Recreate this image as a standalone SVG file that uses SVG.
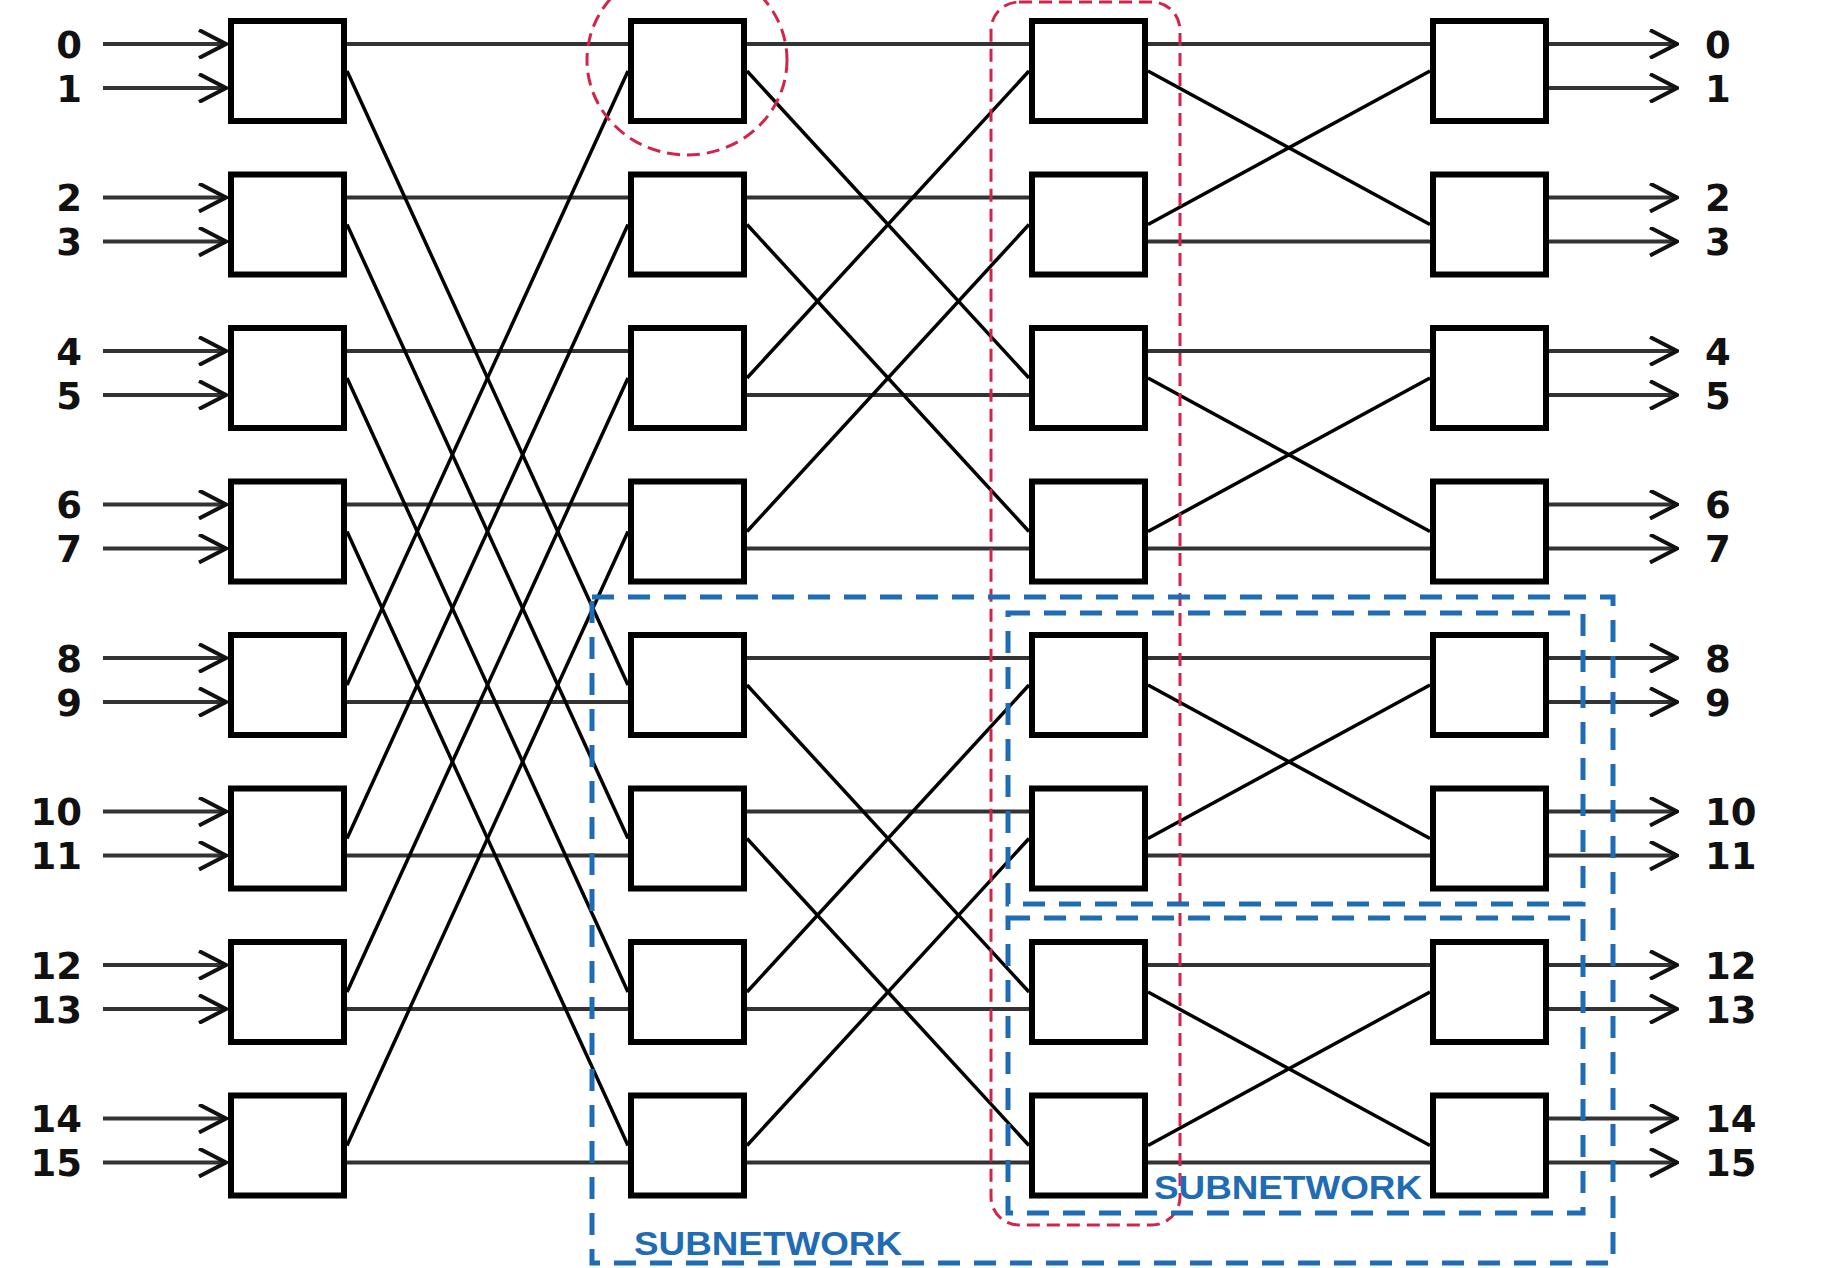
<svg xmlns="http://www.w3.org/2000/svg" width="1845" height="1268" viewBox="0 0 1845 1268">
<style>
.box{fill:#fff;stroke:#000;stroke-width:6}
.h{stroke:#333;stroke-width:4;fill:none}
.d{stroke:#000;stroke-width:3.5;fill:none}
.io{stroke:#333;stroke-width:4;fill:none;marker-end:url(#chev)}
.lbl{font-family:"DejaVu Sans",sans-serif;font-weight:bold;font-size:37px;fill:#111}
.l{text-anchor:end}
.red{fill:none;stroke:#d2234a;stroke-width:3;stroke-dasharray:13 7}
.blue{fill:none;stroke:#1f6cb4;stroke-width:5;stroke-dasharray:22 14}
.sub{font-family:"Liberation Sans",Arial,sans-serif;font-weight:bold;font-size:33px;fill:#1f6cb4}
</style>
<defs>
<marker id="chev" viewBox="0 0 30 30" refX="28" refY="15" markerWidth="30" markerHeight="30" markerUnits="userSpaceOnUse" orient="auto">
<path d="M1,1 L28,15 L1,29" fill="none" stroke="#111" stroke-width="4"/>
</marker>
</defs>
<rect width="1845" height="1268" fill="#fff"/>
<g id="connectors">
<line class="io" x1="103" y1="44" x2="226" y2="44"/>
<line class="io" x1="103" y1="88" x2="226" y2="88"/>
<line class="io" x1="103" y1="197.5" x2="226" y2="197.5"/>
<line class="io" x1="103" y1="241.5" x2="226" y2="241.5"/>
<line class="io" x1="103" y1="351" x2="226" y2="351"/>
<line class="io" x1="103" y1="395" x2="226" y2="395"/>
<line class="io" x1="103" y1="504.5" x2="226" y2="504.5"/>
<line class="io" x1="103" y1="548.5" x2="226" y2="548.5"/>
<line class="io" x1="103" y1="658" x2="226" y2="658"/>
<line class="io" x1="103" y1="702" x2="226" y2="702"/>
<line class="io" x1="103" y1="811.5" x2="226" y2="811.5"/>
<line class="io" x1="103" y1="855.5" x2="226" y2="855.5"/>
<line class="io" x1="103" y1="965" x2="226" y2="965"/>
<line class="io" x1="103" y1="1009" x2="226" y2="1009"/>
<line class="io" x1="103" y1="1118.5" x2="226" y2="1118.5"/>
<line class="io" x1="103" y1="1162.5" x2="226" y2="1162.5"/>
<line class="h" x1="347" y1="44" x2="628" y2="44"/>
<line class="h" x1="347" y1="197.5" x2="628" y2="197.5"/>
<line class="h" x1="347" y1="351" x2="628" y2="351"/>
<line class="h" x1="347" y1="504.5" x2="628" y2="504.5"/>
<line class="h" x1="347" y1="702" x2="628" y2="702"/>
<line class="h" x1="347" y1="855.5" x2="628" y2="855.5"/>
<line class="h" x1="347" y1="1009" x2="628" y2="1009"/>
<line class="h" x1="347" y1="1162.5" x2="628" y2="1162.5"/>
<line class="d" x1="347" y1="71" x2="628" y2="685"/>
<line class="d" x1="347" y1="224.5" x2="628" y2="838.5"/>
<line class="d" x1="347" y1="378" x2="628" y2="992"/>
<line class="d" x1="347" y1="531.5" x2="628" y2="1145.5"/>
<line class="d" x1="347" y1="685" x2="628" y2="71"/>
<line class="d" x1="347" y1="838.5" x2="628" y2="224.5"/>
<line class="d" x1="347" y1="992" x2="628" y2="378"/>
<line class="d" x1="347" y1="1145.5" x2="628" y2="531.5"/>
<line class="h" x1="747" y1="44" x2="1029" y2="44"/>
<line class="h" x1="747" y1="197.5" x2="1029" y2="197.5"/>
<line class="h" x1="747" y1="395" x2="1029" y2="395"/>
<line class="h" x1="747" y1="548.5" x2="1029" y2="548.5"/>
<line class="h" x1="747" y1="658" x2="1029" y2="658"/>
<line class="h" x1="747" y1="811.5" x2="1029" y2="811.5"/>
<line class="h" x1="747" y1="1009" x2="1029" y2="1009"/>
<line class="h" x1="747" y1="1162.5" x2="1029" y2="1162.5"/>
<line class="d" x1="747" y1="71" x2="1029" y2="378"/>
<line class="d" x1="747" y1="224.5" x2="1029" y2="531.5"/>
<line class="d" x1="747" y1="378" x2="1029" y2="71"/>
<line class="d" x1="747" y1="531.5" x2="1029" y2="224.5"/>
<line class="d" x1="747" y1="685" x2="1029" y2="992"/>
<line class="d" x1="747" y1="838.5" x2="1029" y2="1145.5"/>
<line class="d" x1="747" y1="992" x2="1029" y2="685"/>
<line class="d" x1="747" y1="1145.5" x2="1029" y2="838.5"/>
<line class="h" x1="1148" y1="44" x2="1430" y2="44"/>
<line class="h" x1="1148" y1="241.5" x2="1430" y2="241.5"/>
<line class="h" x1="1148" y1="351" x2="1430" y2="351"/>
<line class="h" x1="1148" y1="548.5" x2="1430" y2="548.5"/>
<line class="h" x1="1148" y1="658" x2="1430" y2="658"/>
<line class="h" x1="1148" y1="855.5" x2="1430" y2="855.5"/>
<line class="h" x1="1148" y1="965" x2="1430" y2="965"/>
<line class="h" x1="1148" y1="1162.5" x2="1430" y2="1162.5"/>
<line class="d" x1="1148" y1="71" x2="1430" y2="224.5"/>
<line class="d" x1="1148" y1="224.5" x2="1430" y2="71"/>
<line class="d" x1="1148" y1="378" x2="1430" y2="531.5"/>
<line class="d" x1="1148" y1="531.5" x2="1430" y2="378"/>
<line class="d" x1="1148" y1="685" x2="1430" y2="838.5"/>
<line class="d" x1="1148" y1="838.5" x2="1430" y2="685"/>
<line class="d" x1="1148" y1="992" x2="1430" y2="1145.5"/>
<line class="d" x1="1148" y1="1145.5" x2="1430" y2="992"/>
<line class="io" x1="1549" y1="44" x2="1677" y2="44"/>
<line class="io" x1="1549" y1="88" x2="1677" y2="88"/>
<line class="io" x1="1549" y1="197.5" x2="1677" y2="197.5"/>
<line class="io" x1="1549" y1="241.5" x2="1677" y2="241.5"/>
<line class="io" x1="1549" y1="351" x2="1677" y2="351"/>
<line class="io" x1="1549" y1="395" x2="1677" y2="395"/>
<line class="io" x1="1549" y1="504.5" x2="1677" y2="504.5"/>
<line class="io" x1="1549" y1="548.5" x2="1677" y2="548.5"/>
<line class="io" x1="1549" y1="658" x2="1677" y2="658"/>
<line class="io" x1="1549" y1="702" x2="1677" y2="702"/>
<line class="io" x1="1549" y1="811.5" x2="1677" y2="811.5"/>
<line class="io" x1="1549" y1="855.5" x2="1677" y2="855.5"/>
<line class="io" x1="1549" y1="965" x2="1677" y2="965"/>
<line class="io" x1="1549" y1="1009" x2="1677" y2="1009"/>
<line class="io" x1="1549" y1="1118.5" x2="1677" y2="1118.5"/>
<line class="io" x1="1549" y1="1162.5" x2="1677" y2="1162.5"/>
</g>
<g id="stage1">
<g id="s1-0"><rect class="box" x="231" y="21" width="113" height="100"/></g>
<g id="s1-1"><rect class="box" x="231" y="174.5" width="113" height="100"/></g>
<g id="s1-2"><rect class="box" x="231" y="328" width="113" height="100"/></g>
<g id="s1-3"><rect class="box" x="231" y="481.5" width="113" height="100"/></g>
<g id="s1-4"><rect class="box" x="231" y="635" width="113" height="100"/></g>
<g id="s1-5"><rect class="box" x="231" y="788.5" width="113" height="100"/></g>
<g id="s1-6"><rect class="box" x="231" y="942" width="113" height="100"/></g>
<g id="s1-7"><rect class="box" x="231" y="1095.5" width="113" height="100"/></g>
</g>
<g id="stage2">
<g id="s2-0"><rect class="box" x="631" y="21" width="113" height="100"/></g>
<g id="s2-1"><rect class="box" x="631" y="174.5" width="113" height="100"/></g>
<g id="s2-2"><rect class="box" x="631" y="328" width="113" height="100"/></g>
<g id="s2-3"><rect class="box" x="631" y="481.5" width="113" height="100"/></g>
<g id="s2-4"><rect class="box" x="631" y="635" width="113" height="100"/></g>
<g id="s2-5"><rect class="box" x="631" y="788.5" width="113" height="100"/></g>
<g id="s2-6"><rect class="box" x="631" y="942" width="113" height="100"/></g>
<g id="s2-7"><rect class="box" x="631" y="1095.5" width="113" height="100"/></g>
</g>
<g id="stage3">
<g id="s3-0"><rect class="box" x="1032" y="21" width="113" height="100"/></g>
<g id="s3-1"><rect class="box" x="1032" y="174.5" width="113" height="100"/></g>
<g id="s3-2"><rect class="box" x="1032" y="328" width="113" height="100"/></g>
<g id="s3-3"><rect class="box" x="1032" y="481.5" width="113" height="100"/></g>
<g id="s3-4"><rect class="box" x="1032" y="635" width="113" height="100"/></g>
<g id="s3-5"><rect class="box" x="1032" y="788.5" width="113" height="100"/></g>
<g id="s3-6"><rect class="box" x="1032" y="942" width="113" height="100"/></g>
<g id="s3-7"><rect class="box" x="1032" y="1095.5" width="113" height="100"/></g>
</g>
<g id="stage4">
<g id="s4-0"><rect class="box" x="1433" y="21" width="113" height="100"/></g>
<g id="s4-1"><rect class="box" x="1433" y="174.5" width="113" height="100"/></g>
<g id="s4-2"><rect class="box" x="1433" y="328" width="113" height="100"/></g>
<g id="s4-3"><rect class="box" x="1433" y="481.5" width="113" height="100"/></g>
<g id="s4-4"><rect class="box" x="1433" y="635" width="113" height="100"/></g>
<g id="s4-5"><rect class="box" x="1433" y="788.5" width="113" height="100"/></g>
<g id="s4-6"><rect class="box" x="1433" y="942" width="113" height="100"/></g>
<g id="s4-7"><rect class="box" x="1433" y="1095.5" width="113" height="100"/></g>
</g>
<g id="in-labels">
<text class="lbl l" x="82" y="57.5">0</text>
<text class="lbl l" x="82" y="101.5">1</text>
<text class="lbl l" x="82" y="211">2</text>
<text class="lbl l" x="82" y="255">3</text>
<text class="lbl l" x="82" y="364.5">4</text>
<text class="lbl l" x="82" y="408.5">5</text>
<text class="lbl l" x="82" y="518">6</text>
<text class="lbl l" x="82" y="562">7</text>
<text class="lbl l" x="82" y="671.5">8</text>
<text class="lbl l" x="82" y="715.5">9</text>
<text class="lbl l" x="82" y="825">10</text>
<text class="lbl l" x="82" y="869">11</text>
<text class="lbl l" x="82" y="978.5">12</text>
<text class="lbl l" x="82" y="1022.5">13</text>
<text class="lbl l" x="82" y="1132">14</text>
<text class="lbl l" x="82" y="1176">15</text>
</g>
<g id="out-labels">
<text class="lbl" x="1705" y="57.5">0</text>
<text class="lbl" x="1705" y="101.5">1</text>
<text class="lbl" x="1705" y="211">2</text>
<text class="lbl" x="1705" y="255">3</text>
<text class="lbl" x="1705" y="364.5">4</text>
<text class="lbl" x="1705" y="408.5">5</text>
<text class="lbl" x="1705" y="518">6</text>
<text class="lbl" x="1705" y="562">7</text>
<text class="lbl" x="1705" y="671.5">8</text>
<text class="lbl" x="1705" y="715.5">9</text>
<text class="lbl" x="1705" y="825">10</text>
<text class="lbl" x="1705" y="869">11</text>
<text class="lbl" x="1705" y="978.5">12</text>
<text class="lbl" x="1705" y="1022.5">13</text>
<text class="lbl" x="1705" y="1132">14</text>
<text class="lbl" x="1705" y="1176">15</text>
</g>
<g id="highlights">
<ellipse id="switch-highlight" class="red" cx="687" cy="60" rx="100" ry="95"/>
<rect id="stage-highlight" class="red" x="991" y="2" width="189" height="1223" rx="28" ry="28"/>
<rect id="subnet-big" class="blue" x="592" y="597" width="1021" height="666"/>
<rect id="subnet-a" class="blue" x="1008" y="613" width="575" height="291"/>
<rect id="subnet-b" class="blue" x="1008" y="918" width="575" height="295"/>
<text class="sub" x="634" y="1255" textLength="268" lengthAdjust="spacingAndGlyphs">SUBNETWORK</text>
<text class="sub" x="1154" y="1199" textLength="268" lengthAdjust="spacingAndGlyphs">SUBNETWORK</text>
</g>
</svg>
